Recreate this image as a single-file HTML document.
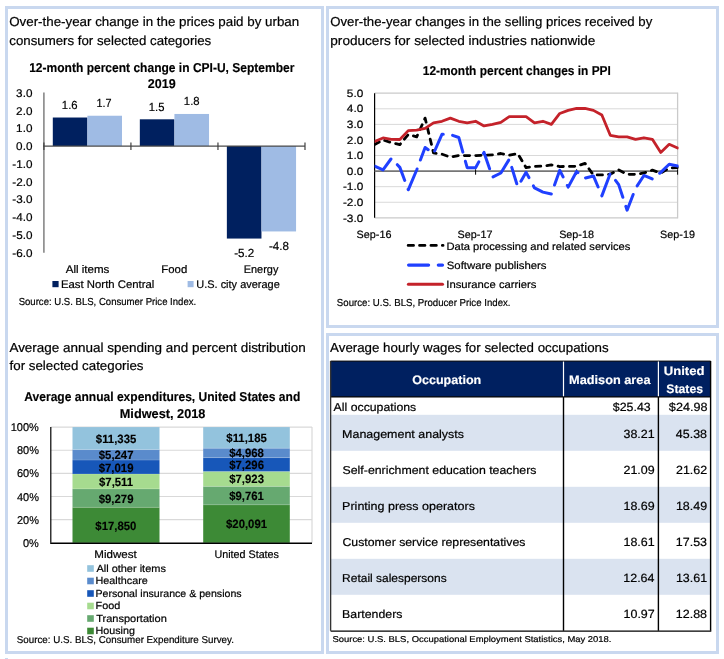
<!DOCTYPE html>
<html><head><meta charset="utf-8"><style>html,body{margin:0;padding:0;background:#fff;width:724px;height:659px;overflow:hidden}</style></head>
<body><div style="will-change:transform;width:724px;height:659px;overflow:hidden">
<svg width="724" height="659" viewBox="0 0 724 659" style="display:block;font-family:'Liberation Sans', sans-serif" text-rendering="geometricPrecision">
<rect x="0" y="0" width="724" height="659" fill="#fff"/>
<rect x="6.5" y="7.5" width="316" height="645" fill="none" stroke="#c9d8ef" stroke-width="3"/>
<rect x="327.5" y="7.5" width="390" height="319" fill="none" stroke="#c9d8ef" stroke-width="3"/>
<rect x="327.5" y="334.5" width="390" height="318" fill="none" stroke="#c9d8ef" stroke-width="3"/>
<rect x="5" y="658" width="3" height="1" fill="#c9d8ef"/>
<text x="9.20" y="25.90" font-size="13.04" textLength="289.97" lengthAdjust="spacingAndGlyphs" fill="#000" stroke="#000" stroke-width="0.2">Over-the-year change in the prices paid by urban</text>
<text x="9.27" y="44.50" font-size="13.04" textLength="201.99" lengthAdjust="spacingAndGlyphs" fill="#000" stroke="#000" stroke-width="0.2">consumers for selected categories</text>
<text x="29.18" y="71.70" font-size="12.90" textLength="265.30" lengthAdjust="spacingAndGlyphs" font-weight="bold" fill="#000" stroke="#000" stroke-width="0.15">12-month percent change in CPI-U, September</text>
<text x="147.76" y="87.70" font-size="12.90" textLength="27.87" lengthAdjust="spacingAndGlyphs" font-weight="bold" fill="#000" stroke="#000" stroke-width="0.15">2019</text>
<rect x="52.80" y="117.52" width="34.60" height="28.48" fill="#00205f"/>
<rect x="87.40" y="115.74" width="34.60" height="30.26" fill="#9fbbe4"/>
<rect x="139.83" y="119.30" width="34.60" height="26.70" fill="#00205f"/>
<rect x="174.43" y="113.96" width="34.60" height="32.04" fill="#9fbbe4"/>
<rect x="226.86" y="146.00" width="34.60" height="92.56" fill="#00205f"/>
<rect x="261.46" y="146.00" width="34.60" height="85.44" fill="#9fbbe4"/>
<line x1="43.9" y1="92.6" x2="43.9" y2="252.8" stroke="#7f7f7f" stroke-width="1.5"/>
<line x1="43.2" y1="146.2" x2="305" y2="146.2" stroke="#4a4a4a" stroke-width="1.2"/>
<line x1="43.90" y1="142.4" x2="43.90" y2="150" stroke="#404040" stroke-width="1.2"/>
<line x1="130.93" y1="142.4" x2="130.93" y2="150" stroke="#404040" stroke-width="1.2"/>
<line x1="217.96" y1="142.4" x2="217.96" y2="150" stroke="#404040" stroke-width="1.2"/>
<line x1="304.99" y1="142.4" x2="304.99" y2="150" stroke="#404040" stroke-width="1.2"/>
<text x="16.13" y="149.90" font-size="11.16" textLength="16.28" lengthAdjust="spacingAndGlyphs" fill="#000" stroke="#000" stroke-width="0.2">0.0</text>
<text x="16.13" y="96.85" font-size="11.16" textLength="16.28" lengthAdjust="spacingAndGlyphs" fill="#000" stroke="#000" stroke-width="0.2">3.0</text>
<text x="16.13" y="114.60" font-size="11.16" textLength="16.28" lengthAdjust="spacingAndGlyphs" fill="#000" stroke="#000" stroke-width="0.2">2.0</text>
<text x="16.13" y="132.35" font-size="11.16" textLength="16.28" lengthAdjust="spacingAndGlyphs" fill="#000" stroke="#000" stroke-width="0.2">1.0</text>
<text x="12.27" y="167.85" font-size="11.16" textLength="20.18" lengthAdjust="spacingAndGlyphs" fill="#000" stroke="#000" stroke-width="0.2">-1.0</text>
<text x="12.27" y="185.60" font-size="11.16" textLength="20.18" lengthAdjust="spacingAndGlyphs" fill="#000" stroke="#000" stroke-width="0.2">-2.0</text>
<text x="12.27" y="203.35" font-size="11.16" textLength="20.18" lengthAdjust="spacingAndGlyphs" fill="#000" stroke="#000" stroke-width="0.2">-3.0</text>
<text x="12.27" y="221.10" font-size="11.16" textLength="20.18" lengthAdjust="spacingAndGlyphs" fill="#000" stroke="#000" stroke-width="0.2">-4.0</text>
<text x="12.27" y="238.85" font-size="11.16" textLength="20.18" lengthAdjust="spacingAndGlyphs" fill="#000" stroke="#000" stroke-width="0.2">-5.0</text>
<text x="12.27" y="256.60" font-size="11.16" textLength="20.18" lengthAdjust="spacingAndGlyphs" fill="#000" stroke="#000" stroke-width="0.2">-6.0</text>
<text x="61.85" y="109.00" font-size="11.74" textLength="15.70" lengthAdjust="spacingAndGlyphs" fill="#000" stroke="#000" stroke-width="0.2">1.6</text>
<text x="96.59" y="106.90" font-size="11.74" textLength="15.06" lengthAdjust="spacingAndGlyphs" fill="#000" stroke="#000" stroke-width="0.2">1.7</text>
<text x="148.86" y="110.80" font-size="11.74" textLength="15.59" lengthAdjust="spacingAndGlyphs" fill="#000" stroke="#000" stroke-width="0.2">1.5</text>
<text x="183.85" y="105.30" font-size="11.74" textLength="15.70" lengthAdjust="spacingAndGlyphs" fill="#000" stroke="#000" stroke-width="0.2">1.8</text>
<text x="234.18" y="256.70" font-size="11.74" textLength="20.04" lengthAdjust="spacingAndGlyphs" fill="#000" stroke="#000" stroke-width="0.2">-5.2</text>
<text x="268.98" y="249.90" font-size="11.74" textLength="19.92" lengthAdjust="spacingAndGlyphs" fill="#000" stroke="#000" stroke-width="0.2">-4.8</text>
<text x="65.70" y="272.70" font-size="11.01" textLength="43.69" lengthAdjust="spacingAndGlyphs" fill="#000" stroke="#000" stroke-width="0.2">All items</text>
<text x="161.29" y="272.70" font-size="11.01" textLength="25.94" lengthAdjust="spacingAndGlyphs" fill="#000" stroke="#000" stroke-width="0.2">Food</text>
<text x="243.72" y="272.90" font-size="11.01" textLength="34.66" lengthAdjust="spacingAndGlyphs" fill="#000" stroke="#000" stroke-width="0.2">Energy</text>
<rect x="52.4" y="281" width="6.2" height="6.2" fill="#00205f"/>
<rect x="187.6" y="281" width="6.0" height="6.2" fill="#9fbbe4"/>
<text x="60.99" y="287.70" font-size="11.01" textLength="93.35" lengthAdjust="spacingAndGlyphs" fill="#000" stroke="#000" stroke-width="0.2">East North Central</text>
<text x="196.28" y="287.50" font-size="11.01" textLength="83.51" lengthAdjust="spacingAndGlyphs" fill="#000" stroke="#000" stroke-width="0.2">U.S. city average</text>
<text x="18.67" y="304.90" font-size="10.14" textLength="177.53" lengthAdjust="spacingAndGlyphs" fill="#000" stroke="#000" stroke-width="0.2">Source: U.S. BLS, Consumer Price Index.</text>
<text x="330.21" y="25.90" font-size="13.04" textLength="322.11" lengthAdjust="spacingAndGlyphs" fill="#000" stroke="#000" stroke-width="0.2">Over-the-year changes in the selling prices received by</text>
<text x="330.32" y="44.50" font-size="13.04" textLength="265.11" lengthAdjust="spacingAndGlyphs" fill="#000" stroke="#000" stroke-width="0.2">producers for selected industries nationwide</text>
<text x="422.78" y="74.60" font-size="12.90" textLength="188.11" lengthAdjust="spacingAndGlyphs" font-weight="bold" fill="#000" stroke="#000" stroke-width="0.15">12-month percent changes in PPI</text>
<line x1="374.6" y1="217.82" x2="677.6" y2="217.82" stroke="#cacaca" stroke-width="1.3"/>
<line x1="374.6" y1="202.25" x2="677.6" y2="202.25" stroke="#d9d9d9" stroke-width="1.0"/>
<line x1="374.6" y1="186.67" x2="677.6" y2="186.67" stroke="#d9d9d9" stroke-width="1.0"/>
<line x1="374.6" y1="155.53" x2="677.6" y2="155.53" stroke="#d9d9d9" stroke-width="1.0"/>
<line x1="374.6" y1="139.95" x2="677.6" y2="139.95" stroke="#d9d9d9" stroke-width="1.0"/>
<line x1="374.6" y1="124.38" x2="677.6" y2="124.38" stroke="#d9d9d9" stroke-width="1.0"/>
<line x1="374.6" y1="108.80" x2="677.6" y2="108.80" stroke="#d9d9d9" stroke-width="1.0"/>
<line x1="374.6" y1="93.22" x2="677.6" y2="93.22" stroke="#cacaca" stroke-width="1.3"/>
<line x1="677.6" y1="92.62" x2="677.6" y2="218.42" stroke="#cacaca" stroke-width="1.3"/>
<line x1="374.6" y1="93.22" x2="374.6" y2="217.82" stroke="#000" stroke-width="1.2"/>
<line x1="374.6" y1="171.10" x2="677.6" y2="171.10" stroke="#767676" stroke-width="1.8"/>
<line x1="475.60" y1="169.3" x2="475.60" y2="174.7" stroke="#000" stroke-width="1"/>
<line x1="576.60" y1="169.3" x2="576.60" y2="174.7" stroke="#000" stroke-width="1"/>
<line x1="677.60" y1="169.3" x2="677.60" y2="174.7" stroke="#000" stroke-width="1"/>
<text x="346.83" y="96.80" font-size="10.58" textLength="16.39" lengthAdjust="spacingAndGlyphs" fill="#000" stroke="#000" stroke-width="0.2">5.0</text>
<text x="346.83" y="112.30" font-size="10.58" textLength="16.39" lengthAdjust="spacingAndGlyphs" fill="#000" stroke="#000" stroke-width="0.2">4.0</text>
<text x="346.83" y="127.90" font-size="10.58" textLength="16.39" lengthAdjust="spacingAndGlyphs" fill="#000" stroke="#000" stroke-width="0.2">3.0</text>
<text x="346.83" y="143.50" font-size="10.58" textLength="16.39" lengthAdjust="spacingAndGlyphs" fill="#000" stroke="#000" stroke-width="0.2">2.0</text>
<text x="346.83" y="159.10" font-size="10.58" textLength="16.39" lengthAdjust="spacingAndGlyphs" fill="#000" stroke="#000" stroke-width="0.2">1.0</text>
<text x="346.83" y="174.70" font-size="10.58" textLength="16.39" lengthAdjust="spacingAndGlyphs" fill="#000" stroke="#000" stroke-width="0.2">0.0</text>
<text x="342.94" y="190.30" font-size="10.58" textLength="20.31" lengthAdjust="spacingAndGlyphs" fill="#000" stroke="#000" stroke-width="0.2">-1.0</text>
<text x="342.94" y="205.90" font-size="10.58" textLength="20.31" lengthAdjust="spacingAndGlyphs" fill="#000" stroke="#000" stroke-width="0.2">-2.0</text>
<text x="342.94" y="221.50" font-size="10.58" textLength="20.31" lengthAdjust="spacingAndGlyphs" fill="#000" stroke="#000" stroke-width="0.2">-3.0</text>
<text x="356.61" y="237.80" font-size="10.58" textLength="34.82" lengthAdjust="spacingAndGlyphs" fill="#000" stroke="#000" stroke-width="0.2">Sep-16</text>
<text x="457.62" y="237.80" font-size="10.58" textLength="34.82" lengthAdjust="spacingAndGlyphs" fill="#000" stroke="#000" stroke-width="0.2">Sep-17</text>
<text x="559.16" y="237.80" font-size="10.58" textLength="34.82" lengthAdjust="spacingAndGlyphs" fill="#000" stroke="#000" stroke-width="0.2">Sep-18</text>
<text x="660.09" y="237.80" font-size="10.58" textLength="34.82" lengthAdjust="spacingAndGlyphs" fill="#000" stroke="#000" stroke-width="0.2">Sep-19</text>
<clipPath id="pc"><rect x="374.6" y="80" width="304" height="150"/></clipPath><g clip-path="url(#pc)">
<polyline points="374.60,144.62 383.02,139.95 391.43,142.60 399.85,144.62 408.27,134.50 416.68,136.83 425.10,118.14 433.52,152.88 441.93,154.12 450.35,157.08 458.77,155.53 467.18,155.53 475.60,155.53 484.02,155.21 492.43,154.90 500.85,153.50 509.27,155.21 517.68,153.50 526.10,167.67 534.52,166.43 542.93,166.12 551.35,164.87 559.77,166.58 568.18,166.43 576.60,166.27 585.02,163.31 593.43,174.99 601.85,174.84 610.27,174.22 618.68,169.85 627.10,174.37 635.52,174.37 643.93,172.97 652.35,170.17 660.77,173.12 669.18,168.14 677.60,167.52" fill="none" stroke="#000" stroke-width="2.8" stroke-linejoin="round" stroke-linecap="round" stroke-dasharray="5.3 6.1"/>
<polyline points="374.60,166.12 383.02,169.85 391.43,158.33 399.85,167.36 408.27,189.79 416.68,170.01 425.10,147.43 433.52,153.66 441.93,134.34 450.35,134.50 458.77,137.46 467.18,167.67 475.60,167.67 484.02,152.41 492.43,177.17 500.85,172.97 509.27,159.26 517.68,186.67 526.10,172.35 534.52,187.92 542.93,192.13 551.35,194.00 559.77,170.32 568.18,187.14 576.60,171.57 585.02,178.11 593.43,175.93 601.85,195.86 610.27,173.44 618.68,184.65 627.10,210.19 635.52,188.39 643.93,175.46 652.35,179.04 660.77,172.35 669.18,164.25 677.60,165.96" fill="none" stroke="#2040ff" stroke-width="3" stroke-linejoin="round" stroke-linecap="round" stroke-dasharray="22.64 9.50 17.61 9.50 23.14 9.50 17.34 9.50 19.51 9.50 21.75 9.50 21.68 9.50 18.64 9.50 23.77 9.50 17.12 9.50 16.15 9.50 20.26 9.50 23.07 9.50 21.28 9.50 20.16 9.50 23.31 9.50 18.59 9.50 20.95 9.50 21.42 9.50 71.73 50.00"/>
<polyline points="374.60,141.51 383.02,137.93 391.43,139.33 399.85,139.48 408.27,130.60 416.68,130.14 425.10,128.42 433.52,122.82 441.93,121.26 450.35,118.14 458.77,121.26 467.18,122.82 475.60,121.26 484.02,125.93 492.43,124.38 500.85,122.35 509.27,116.59 517.68,116.59 526.10,116.59 534.52,122.82 542.93,121.26 551.35,124.38 559.77,113.47 568.18,110.36 576.60,108.49 585.02,108.49 593.43,110.36 601.85,115.03 610.27,135.28 618.68,136.83 627.10,136.83 635.52,139.33 643.93,137.77 652.35,139.33 660.77,152.41 669.18,144.31 677.60,148.05" fill="none" stroke="#c4222a" stroke-width="2.8" stroke-linejoin="round" stroke-linecap="round"/>
</g>
<line x1="408.2" y1="245.4" x2="443" y2="245.4" stroke="#000" stroke-width="2.9" stroke-linecap="round" stroke-dasharray="5.3 6.1"/>
<line x1="408.6" y1="265.1" x2="442.5" y2="265.1" stroke="#2040ff" stroke-width="3.2" stroke-linecap="round" stroke-dasharray="20 9.7"/>
<line x1="408.4" y1="284.3" x2="442.5" y2="284.3" stroke="#c4222a" stroke-width="3" stroke-linecap="round"/>
<text x="446.41" y="249.70" font-size="10.58" textLength="183.87" lengthAdjust="spacingAndGlyphs" fill="#000" stroke="#000" stroke-width="0.2">Data processing and related services</text>
<text x="446.79" y="269.10" font-size="10.58" textLength="99.78" lengthAdjust="spacingAndGlyphs" fill="#000" stroke="#000" stroke-width="0.2">Software publishers</text>
<text x="446.29" y="287.50" font-size="10.58" textLength="90.19" lengthAdjust="spacingAndGlyphs" fill="#000" stroke="#000" stroke-width="0.2">Insurance carriers</text>
<text x="336.87" y="305.70" font-size="10.14" textLength="173.64" lengthAdjust="spacingAndGlyphs" fill="#000" stroke="#000" stroke-width="0.2">Source: U.S. BLS, Producer Price Index.</text>
<text x="9.40" y="351.80" font-size="13.04" textLength="296.42" lengthAdjust="spacingAndGlyphs" fill="#000" stroke="#000" stroke-width="0.2">Average annual spending and percent distribution</text>
<text x="9.60" y="370.30" font-size="13.04" textLength="133.88" lengthAdjust="spacingAndGlyphs" fill="#000" stroke="#000" stroke-width="0.2">for selected categories</text>
<text x="24.30" y="400.70" font-size="12.90" textLength="275.97" lengthAdjust="spacingAndGlyphs" font-weight="bold" fill="#000" stroke="#000" stroke-width="0.15">Average annual expenditures, United States and</text>
<text x="119.77" y="417.50" font-size="12.90" textLength="85.61" lengthAdjust="spacingAndGlyphs" font-weight="bold" fill="#000" stroke="#000" stroke-width="0.15">Midwest, 2018</text>
<line x1="50.8" y1="519.66" x2="312.0" y2="519.66" stroke="#d9d9d9" stroke-width="1.2"/>
<line x1="50.8" y1="496.52" x2="312.0" y2="496.52" stroke="#d9d9d9" stroke-width="1.2"/>
<line x1="50.8" y1="473.38" x2="312.0" y2="473.38" stroke="#d9d9d9" stroke-width="1.2"/>
<line x1="50.8" y1="450.24" x2="312.0" y2="450.24" stroke="#d9d9d9" stroke-width="1.2"/>
<line x1="50.8" y1="427.10" x2="312.0" y2="427.10" stroke="#d9d9d9" stroke-width="1.2"/>
<line x1="312.0" y1="427.10" x2="312.0" y2="542.8" stroke="#d9d9d9" stroke-width="1.2"/>
<rect x="72.5" y="507.34" width="87.00" height="35.46" fill="#3d8a36"/>
<rect x="72.5" y="488.91" width="87.00" height="18.43" fill="#66a970"/>
<rect x="72.5" y="473.99" width="87.00" height="14.92" fill="#a6db8f"/>
<rect x="72.5" y="460.04" width="87.00" height="13.94" fill="#1757b9"/>
<rect x="72.5" y="449.62" width="87.00" height="10.42" fill="#5a8bcc"/>
<rect x="72.5" y="427.10" width="87.00" height="22.52" fill="#93c3dd"/>
<rect x="203.2" y="504.83" width="86.60" height="37.97" fill="#3d8a36"/>
<rect x="203.2" y="486.39" width="86.60" height="18.45" fill="#66a970"/>
<rect x="203.2" y="471.41" width="86.60" height="14.97" fill="#a6db8f"/>
<rect x="203.2" y="457.63" width="86.60" height="13.79" fill="#1757b9"/>
<rect x="203.2" y="448.24" width="86.60" height="9.39" fill="#5a8bcc"/>
<rect x="203.2" y="427.10" width="86.60" height="21.14" fill="#93c3dd"/>
<line x1="72.5" y1="507.34" x2="159.5" y2="507.34" stroke="#fff" stroke-opacity="0.2" stroke-width="0.8"/>
<line x1="72.5" y1="488.91" x2="159.5" y2="488.91" stroke="#fff" stroke-opacity="0.2" stroke-width="0.8"/>
<line x1="72.5" y1="473.99" x2="159.5" y2="473.99" stroke="#fff" stroke-opacity="0.2" stroke-width="0.8"/>
<line x1="72.5" y1="460.04" x2="159.5" y2="460.04" stroke="#fff" stroke-opacity="0.2" stroke-width="0.8"/>
<line x1="72.5" y1="449.62" x2="159.5" y2="449.62" stroke="#fff" stroke-opacity="0.2" stroke-width="0.8"/>
<line x1="203.2" y1="504.83" x2="289.8" y2="504.83" stroke="#fff" stroke-opacity="0.2" stroke-width="0.8"/>
<line x1="203.2" y1="486.39" x2="289.8" y2="486.39" stroke="#fff" stroke-opacity="0.2" stroke-width="0.8"/>
<line x1="203.2" y1="471.41" x2="289.8" y2="471.41" stroke="#fff" stroke-opacity="0.2" stroke-width="0.8"/>
<line x1="203.2" y1="457.63" x2="289.8" y2="457.63" stroke="#fff" stroke-opacity="0.2" stroke-width="0.8"/>
<line x1="203.2" y1="448.24" x2="289.8" y2="448.24" stroke="#fff" stroke-opacity="0.2" stroke-width="0.8"/>
<text x="95.33" y="529.70" font-size="12.03" textLength="41.02" lengthAdjust="spacingAndGlyphs" font-weight="bold" fill="#000" stroke="#000" stroke-width="0.15">$17,850</text>
<text x="98.75" y="502.62" font-size="12.03" textLength="34.71" lengthAdjust="spacingAndGlyphs" font-weight="bold" fill="#000" stroke="#000" stroke-width="0.15">$9,279</text>
<text x="99.03" y="485.95" font-size="12.03" textLength="34.08" lengthAdjust="spacingAndGlyphs" font-weight="bold" fill="#000" stroke="#000" stroke-width="0.15">$7,511</text>
<text x="98.75" y="471.51" font-size="12.03" textLength="34.71" lengthAdjust="spacingAndGlyphs" font-weight="bold" fill="#000" stroke="#000" stroke-width="0.15">$7,019</text>
<text x="98.78" y="459.33" font-size="12.03" textLength="34.71" lengthAdjust="spacingAndGlyphs" font-weight="bold" fill="#000" stroke="#000" stroke-width="0.15">$5,247</text>
<text x="95.86" y="442.86" font-size="12.03" textLength="40.40" lengthAdjust="spacingAndGlyphs" font-weight="bold" fill="#000" stroke="#000" stroke-width="0.15">$11,335</text>
<text x="226.04" y="528.32" font-size="12.03" textLength="41.02" lengthAdjust="spacingAndGlyphs" font-weight="bold" fill="#000" stroke="#000" stroke-width="0.15">$20,091</text>
<text x="229.19" y="500.11" font-size="12.03" textLength="34.71" lengthAdjust="spacingAndGlyphs" font-weight="bold" fill="#000" stroke="#000" stroke-width="0.15">$9,761</text>
<text x="229.25" y="483.40" font-size="12.03" textLength="34.71" lengthAdjust="spacingAndGlyphs" font-weight="bold" fill="#000" stroke="#000" stroke-width="0.15">$7,923</text>
<text x="229.25" y="469.02" font-size="12.03" textLength="34.71" lengthAdjust="spacingAndGlyphs" font-weight="bold" fill="#000" stroke="#000" stroke-width="0.15">$7,296</text>
<text x="229.22" y="457.43" font-size="12.03" textLength="34.71" lengthAdjust="spacingAndGlyphs" font-weight="bold" fill="#000" stroke="#000" stroke-width="0.15">$4,968</text>
<text x="226.36" y="442.17" font-size="12.03" textLength="40.40" lengthAdjust="spacingAndGlyphs" font-weight="bold" fill="#000" stroke="#000" stroke-width="0.15">$11,185</text>
<line x1="50.8" y1="427.1" x2="50.8" y2="542.8" stroke="#000" stroke-width="1.2"/>
<line x1="50.199999999999996" y1="543.1999999999999" x2="312.0" y2="543.1999999999999" stroke="#000" stroke-width="1.5"/>
<text x="10.78" y="431.20" font-size="11.30" textLength="28.08" lengthAdjust="spacingAndGlyphs" fill="#000" stroke="#000" stroke-width="0.2">100%</text>
<text x="16.93" y="454.32" font-size="11.30" textLength="21.98" lengthAdjust="spacingAndGlyphs" fill="#000" stroke="#000" stroke-width="0.2">80%</text>
<text x="16.93" y="477.44" font-size="11.30" textLength="21.98" lengthAdjust="spacingAndGlyphs" fill="#000" stroke="#000" stroke-width="0.2">60%</text>
<text x="16.93" y="500.56" font-size="11.30" textLength="21.98" lengthAdjust="spacingAndGlyphs" fill="#000" stroke="#000" stroke-width="0.2">40%</text>
<text x="16.93" y="523.68" font-size="11.30" textLength="21.98" lengthAdjust="spacingAndGlyphs" fill="#000" stroke="#000" stroke-width="0.2">20%</text>
<text x="23.02" y="546.80" font-size="11.30" textLength="15.87" lengthAdjust="spacingAndGlyphs" fill="#000" stroke="#000" stroke-width="0.2">0%</text>
<text x="94.37" y="557.60" font-size="11.01" textLength="42.41" lengthAdjust="spacingAndGlyphs" fill="#000" stroke="#000" stroke-width="0.2">Midwest</text>
<text x="214.49" y="557.60" font-size="11.01" textLength="64.47" lengthAdjust="spacingAndGlyphs" fill="#000" stroke="#000" stroke-width="0.2">United States</text>
<rect x="87.2" y="565.20" width="6.6" height="6.6" fill="#93c3dd"/>
<text x="96.40" y="571.80" font-size="10.29" textLength="69.49" lengthAdjust="spacingAndGlyphs" fill="#000" stroke="#000" stroke-width="0.2">All other items</text>
<rect x="87.2" y="577.70" width="6.6" height="6.6" fill="#5a8bcc"/>
<text x="95.54" y="584.30" font-size="10.29" textLength="52.26" lengthAdjust="spacingAndGlyphs" fill="#000" stroke="#000" stroke-width="0.2">Healthcare</text>
<rect x="87.2" y="590.20" width="6.6" height="6.6" fill="#1757b9"/>
<text x="95.55" y="596.80" font-size="10.29" textLength="146.03" lengthAdjust="spacingAndGlyphs" fill="#000" stroke="#000" stroke-width="0.2">Personal insurance &amp; pensions</text>
<rect x="87.2" y="602.70" width="6.6" height="6.6" fill="#a6db8f"/>
<text x="95.53" y="609.30" font-size="10.29" textLength="24.77" lengthAdjust="spacingAndGlyphs" fill="#000" stroke="#000" stroke-width="0.2">Food</text>
<rect x="87.2" y="615.20" width="6.6" height="6.6" fill="#66a970"/>
<text x="96.18" y="621.80" font-size="10.29" textLength="70.65" lengthAdjust="spacingAndGlyphs" fill="#000" stroke="#000" stroke-width="0.2">Transportation</text>
<rect x="87.2" y="627.70" width="6.6" height="6.6" fill="#3d8a36"/>
<text x="95.54" y="634.30" font-size="10.29" textLength="39.34" lengthAdjust="spacingAndGlyphs" fill="#000" stroke="#000" stroke-width="0.2">Housing</text>
<text x="16.76" y="642.90" font-size="10.00" textLength="217.16" lengthAdjust="spacingAndGlyphs" fill="#000" stroke="#000" stroke-width="0.2">Source: U.S. BLS, Consumer Expenditure Survey.</text>
<text x="330.10" y="351.60" font-size="13.04" textLength="278.55" lengthAdjust="spacingAndGlyphs" fill="#000" stroke="#000" stroke-width="0.2">Average hourly wages for selected occupations</text>
<rect x="330.6" y="361.1" width="380.0" height="35.799999999999955" fill="#002060"/>
<rect x="330.6" y="414.80" width="380.0" height="36" fill="#dae3f0"/>
<rect x="330.6" y="486.80" width="380.0" height="36" fill="#dae3f0"/>
<rect x="330.6" y="558.80" width="380.0" height="36" fill="#dae3f0"/>
<line x1="330.6" y1="361.1" x2="710.6" y2="361.1" stroke="#000" stroke-width="1"/>
<line x1="330.6" y1="396.9" x2="710.6" y2="396.9" stroke="#000" stroke-width="1.2"/>
<line x1="563.5" y1="361.6" x2="563.5" y2="396.29999999999995" stroke="#fff" stroke-width="1.2"/>
<line x1="658.4" y1="361.6" x2="658.4" y2="396.29999999999995" stroke="#fff" stroke-width="1.2"/>
<line x1="563.5" y1="396.9" x2="563.5" y2="630.8" stroke="#000" stroke-width="1.4"/>
<line x1="658.4" y1="396.9" x2="658.4" y2="630.8" stroke="#000" stroke-width="1.4"/>
<line x1="330.6" y1="361.1" x2="330.6" y2="630.8" stroke="#333" stroke-width="1.4"/>
<line x1="710.6" y1="361.1" x2="710.6" y2="630.8" stroke="#000" stroke-width="1.4"/>
<line x1="330.6" y1="631.1999999999999" x2="711.3000000000001" y2="631.1999999999999" stroke="#000" stroke-width="1.3"/>
<text x="412.20" y="383.60" font-size="12.32" textLength="69.06" lengthAdjust="spacingAndGlyphs" font-weight="bold" fill="#fff" stroke="#fff" stroke-width="0.15">Occupation</text>
<text x="569.07" y="384.10" font-size="12.32" textLength="81.42" lengthAdjust="spacingAndGlyphs" font-weight="bold" fill="#fff" stroke="#fff" stroke-width="0.15">Madison area</text>
<text x="663.71" y="375.00" font-size="12.32" textLength="40.75" lengthAdjust="spacingAndGlyphs" font-weight="bold" fill="#fff" stroke="#fff" stroke-width="0.15">United</text>
<text x="666.33" y="392.90" font-size="12.32" textLength="36.68" lengthAdjust="spacingAndGlyphs" font-weight="bold" fill="#fff" stroke="#fff" stroke-width="0.15">States</text>
<text x="333.60" y="410.90" font-size="11.45" textLength="82.65" lengthAdjust="spacingAndGlyphs" fill="#000" stroke="#000" stroke-width="0.2">All occupations</text>
<text x="612.88" y="411.00" font-size="11.88" textLength="37.80" lengthAdjust="spacingAndGlyphs" fill="#000" stroke="#000" stroke-width="0.2">$25.43</text>
<text x="668.87" y="411.00" font-size="11.88" textLength="38.61" lengthAdjust="spacingAndGlyphs" fill="#000" stroke="#000" stroke-width="0.2">$24.98</text>
<text x="623.50" y="437.90" font-size="11.88" textLength="31.19" lengthAdjust="spacingAndGlyphs" fill="#000" stroke="#000" stroke-width="0.2">38.21</text>
<text x="342.10" y="437.90" font-size="11.45" textLength="121.91" lengthAdjust="spacingAndGlyphs" fill="#000" stroke="#000" stroke-width="0.2">Management analysts</text>
<text x="675.84" y="437.90" font-size="11.88" textLength="31.19" lengthAdjust="spacingAndGlyphs" fill="#000" stroke="#000" stroke-width="0.2">45.38</text>
<text x="342.55" y="473.90" font-size="11.45" textLength="193.90" lengthAdjust="spacingAndGlyphs" fill="#000" stroke="#000" stroke-width="0.2">Self-enrichment education teachers</text>
<text x="623.50" y="473.90" font-size="11.88" textLength="31.19" lengthAdjust="spacingAndGlyphs" fill="#000" stroke="#000" stroke-width="0.2">21.09</text>
<text x="675.96" y="473.90" font-size="11.88" textLength="31.19" lengthAdjust="spacingAndGlyphs" fill="#000" stroke="#000" stroke-width="0.2">21.62</text>
<text x="342.10" y="509.90" font-size="11.45" textLength="132.86" lengthAdjust="spacingAndGlyphs" fill="#000" stroke="#000" stroke-width="0.2">Printing press operators</text>
<text x="623.50" y="509.90" font-size="11.88" textLength="31.19" lengthAdjust="spacingAndGlyphs" fill="#000" stroke="#000" stroke-width="0.2">18.69</text>
<text x="675.90" y="509.90" font-size="11.88" textLength="31.19" lengthAdjust="spacingAndGlyphs" fill="#000" stroke="#000" stroke-width="0.2">18.49</text>
<text x="342.49" y="545.90" font-size="11.45" textLength="182.94" lengthAdjust="spacingAndGlyphs" fill="#000" stroke="#000" stroke-width="0.2">Customer service representatives</text>
<text x="623.50" y="545.90" font-size="11.88" textLength="31.19" lengthAdjust="spacingAndGlyphs" fill="#000" stroke="#000" stroke-width="0.2">18.61</text>
<text x="675.84" y="545.90" font-size="11.88" textLength="31.19" lengthAdjust="spacingAndGlyphs" fill="#000" stroke="#000" stroke-width="0.2">17.53</text>
<text x="342.14" y="581.90" font-size="11.45" textLength="104.50" lengthAdjust="spacingAndGlyphs" fill="#000" stroke="#000" stroke-width="0.2">Retail salespersons</text>
<text x="623.31" y="581.90" font-size="11.88" textLength="31.19" lengthAdjust="spacingAndGlyphs" fill="#000" stroke="#000" stroke-width="0.2">12.64</text>
<text x="675.90" y="581.90" font-size="11.88" textLength="31.19" lengthAdjust="spacingAndGlyphs" fill="#000" stroke="#000" stroke-width="0.2">13.61</text>
<text x="342.11" y="617.90" font-size="11.45" textLength="60.34" lengthAdjust="spacingAndGlyphs" fill="#000" stroke="#000" stroke-width="0.2">Bartenders</text>
<text x="623.56" y="617.90" font-size="11.88" textLength="31.19" lengthAdjust="spacingAndGlyphs" fill="#000" stroke="#000" stroke-width="0.2">10.97</text>
<text x="675.84" y="617.90" font-size="11.88" textLength="31.19" lengthAdjust="spacingAndGlyphs" fill="#000" stroke="#000" stroke-width="0.2">12.88</text>
<text x="332.48" y="641.90" font-size="8.55" textLength="279.02" lengthAdjust="spacingAndGlyphs" fill="#000" stroke="#000" stroke-width="0.2">Source: U.S. BLS, Occupational Employment Statistics, May 2018.</text>
</svg>
</div></body></html>
